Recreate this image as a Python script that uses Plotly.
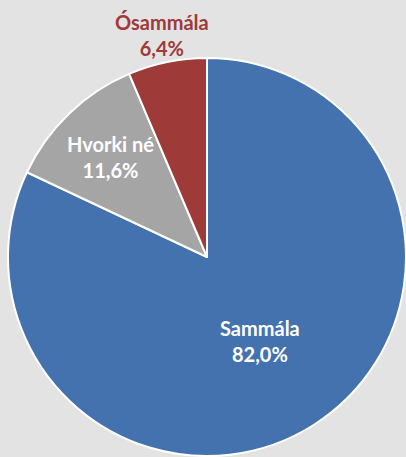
import math
import plotly.graph_objects as go

labels = ["Sammála", "Hvorki né", "Ósammála"]
values = [82.0, 11.6, 6.4]
value_text = ["82,0%", "11,6%", "6,4%"]
colors = ["#4472AE", "#A5A5A5", "#9E3A38"]
text_colors = ["white", "white", "#9E3A38"]
label_radius = [0.50, 0.70, 1.14]  # fraction of pie radius

W, H = 406, 457
dom_x = [8 / W, 1.0]
dom_y = [0.0, 400 / H]

font_family = "Lato, Open Sans, sans-serif"

fig = go.Figure(go.Pie(
    labels=labels,
    values=values,
    sort=False,
    direction="clockwise",
    rotation=0,
    marker=dict(colors=colors, line=dict(color="white", width=2)),
    textinfo="none",
    domain=dict(x=dom_x, y=dom_y),
    showlegend=False,
    hoverinfo="label+percent",
))

# labels placed along each slice's mid-angle (derived from the data)
total = sum(values)
cx_px = (dom_x[0] + dom_x[1]) / 2 * W
cy_px = (dom_y[0] + dom_y[1]) / 2 * H
R = min((dom_x[1] - dom_x[0]) * W, (dom_y[1] - dom_y[0]) * H) / 2
cum = 0.0
for lab, v, vt, tc, lr in zip(labels, values, value_text, text_colors, label_radius):
    mid = (cum + v / 2) / total * 2 * math.pi
    cum += v
    rr = R * lr
    px = cx_px + rr * math.sin(mid)
    py = cy_px + rr * math.cos(mid)
    fig.add_annotation(
        x=px / W, y=py / H, xref="paper", yref="paper",
        text=f"<b>{lab}</b><br><b>{vt}</b>", showarrow=False,
        font=dict(family=font_family, size=20, color=tc),
        xanchor="center", yanchor="middle",
    )

fig.update_layout(
    width=W, height=H,
    margin=dict(l=0, r=0, t=0, b=0),
    paper_bgcolor="#E3E3E3",
    plot_bgcolor="#E3E3E3",
)

fig.write_html("out.html",
               config={"displayModeBar": False},
               post_script="document.body.style.margin='0';document.body.style.overflow='hidden';")
